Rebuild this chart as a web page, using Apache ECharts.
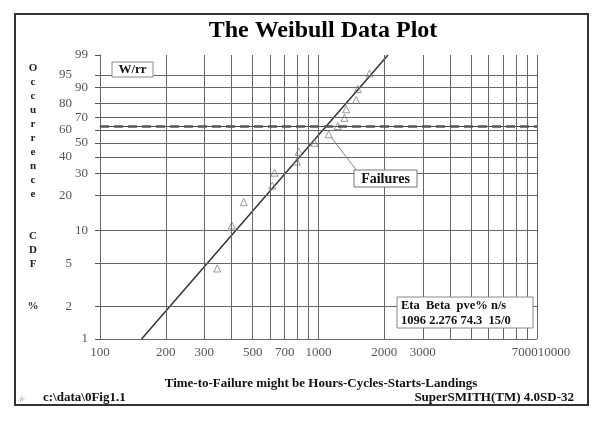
<!DOCTYPE html>
<html><head><meta charset="utf-8">
<script src="https://cdn.jsdelivr.net/npm/echarts@6/dist/echarts.min.js"></script>
<style>html,body{margin:0;padding:0;background:#fff}#c{width:606px;height:422px}</style>
</head><body><div id="c"></div>
<script>
// ---- data ----
const failureHours = [344, 401, 455, 614, 629, 796, 812, 959, 1114, 1225, 1315, 1339, 1488, 1514, 1712];
const failurePct   = [4.5, 11.0, 17.5, 24.0, 30.5, 37.0, 43.5, 50.0, 56.5, 63.0, 69.5, 76.0, 82.5, 89.0, 95.5];
const fitHours = [155, 2080];
const fitPct   = [1, 99];
const characteristicPct = 63.2;
const xTickValues  = [100,200,300,400,500,600,700,800,900,1000,2000,3000,4000,5000,6000,7000,8000,9000,10000];
const xLabelValues = [100,200,300,500,700,1000,2000,3000,10000];
const xCrowdedLabel = '7000'; // printed jammed against the 10000 label in the reference
const yGridPct     = [1,2,5,10,20,30,40,50,60,70,80,90,95,99];
const yLabelsInner = [1,10,30,50,70,90,99];
const yLabelsOuter = [2,5,20,40,60,80,95];
const statsHeader = 'Eta  Beta  pve% n/s';
const statsValues = '1096 2.276 74.3  15/0';

// Weibull probability-paper transform
const wb  = p => Math.log(-Math.log(1 - p / 100));
const inv = v => (1 - Math.exp(-Math.exp(v))) * 100;

const SERIF = "'Liberation Serif','DejaVu Serif',serif";
const chart = echarts.init(document.getElementById('c'));
const yMin = wb(yGridPct[0]), yMax = wb(yGridPct[yGridPct.length - 1]);
const pctFmt = v => String(Math.round(inv(v)));

chart.setOption({
  animation: false,
  backgroundColor: '#fff',
  grid: {left: 100, right: 69, top: 55, bottom: 83},
  xAxis: {
    type: 'log', logBase: 10, min: 100, max: 10000,
    axisLine: {lineStyle: {color: '#444', width: 1}},
    axisTick: {customValues: xTickValues, length: 5, lineStyle: {color: '#555'}},
    axisLabel: {
      customValues: xLabelValues, margin: 7, color: '#555', fontFamily: SERIF, fontSize: 13,
      hideOverlap: false, showMinLabel: true, showMaxLabel: true,
      formatter: v => { const r = Math.round(v); return r === 10000 ? '{a|' + xCrowdedLabel + '}{b|10000}' : String(r); },
      rich: {a: {padding: [0, 0, 0, 8], fontFamily: SERIF, fontSize: 13, color: '#555'},
             b: {fontFamily: SERIF, fontSize: 13, color: '#555'}}
    },
    splitLine: {show: false}
  },
  yAxis: [{
    type: 'value', min: yMin, max: yMax, position: 'left',
    axisLine: {show: true, lineStyle: {color: '#444', width: 1}},
    axisTick: {show: true, customValues: yGridPct.map(wb), length: 5, lineStyle: {color: '#555'}},
    axisLabel: {customValues: yLabelsInner.map(wb), formatter: pctFmt, margin: 12, color: '#555', fontFamily: SERIF, fontSize: 13},
    splitLine: {show: false}
  }, {
    type: 'value', min: yMin, max: yMax, position: 'left', offset: 0,
    axisLine: {show: false}, axisTick: {show: false},
    axisLabel: {customValues: yLabelsOuter.map(wb), formatter: pctFmt, margin: 28, color: '#555', fontFamily: SERIF, fontSize: 13},
    splitLine: {show: false}
  }],
  series: [{
    type: 'line', name: 'fit', z: 2, symbol: 'none',
    data: fitHours.map((h, i) => [h, wb(fitPct[i])]),
    lineStyle: {color: '#333', width: 1.5},
    markLine: {
      silent: true, symbol: 'none', label: {show: false},
      lineStyle: {color: '#666', width: 1, type: 'solid'},
      data: [
        ...xTickValues.map(v => ({xAxis: v})),
        ...yGridPct.map(p => ({yAxis: wb(p)})),
        {yAxis: wb(characteristicPct), lineStyle: {color: '#555', width: 2.5, type: [9, 5]}}
      ]
    }
  }, {
    type: 'scatter', name: 'Failures', z: 3,
    symbol: 'triangle', symbolSize: 7,
    itemStyle: {color: 'rgba(255,255,255,0)', borderColor: '#808080', borderWidth: 1},
    data: failureHours.map((h, i) => [h, wb(failurePct[i])])
  }],
  graphic: [
    {type: 'rect', z: 100, shape: {x: 15, y: 14, width: 573, height: 391}, style: {fill: 'none', stroke: '#333', lineWidth: 2}},
    {type: 'text', z: 100, x: 323, y: 31, style: {text: 'The Weibull Data Plot', font: 'bold 24px ' + SERIF, fill: '#000', align: 'center', verticalAlign: 'middle'}},
    {type: 'text', z: 100, x: 33, y: 61, style: {text: 'O\nc\nc\nu\nr\nr\ne\nn\nc\ne\n\n\nC\nD\nF\n\n\n%', font: 'bold 11px ' + SERIF, lineHeight: 14, fill: '#222', align: 'center', verticalAlign: 'top'}},
    {type: 'rect', z: 100, shape: {x: 112, y: 62, width: 41, height: 15}, style: {fill: '#fff', stroke: '#888', lineWidth: 1}},
    {type: 'text', z: 101, x: 132.5, y: 70, style: {text: 'W/rr', font: 'bold 13px ' + SERIF, fill: '#111', align: 'center', verticalAlign: 'middle'}},
    {type: 'line', z: 100, shape: {x1: 331, y1: 137, x2: 357, y2: 171}, style: {stroke: '#888', lineWidth: 1}},
    {type: 'rect', z: 100, shape: {x: 354, y: 170, width: 63, height: 17}, style: {fill: '#fff', stroke: '#777', lineWidth: 1}},
    {type: 'text', z: 101, x: 385.5, y: 179, style: {text: 'Failures', font: 'bold 14px ' + SERIF, fill: '#111', align: 'center', verticalAlign: 'middle'}},
    {type: 'rect', z: 100, shape: {x: 397, y: 297, width: 136, height: 31}, style: {fill: '#fff', stroke: '#888', lineWidth: 1}},
    {type: 'text', z: 101, x: 401, y: 298, style: {text: statsHeader + '\n' + statsValues, font: 'bold 12.5px ' + SERIF, lineHeight: 15, fill: '#111', align: 'left', verticalAlign: 'top'}},
    {type: 'text', z: 100, x: 321, y: 384, style: {text: 'Time-to-Failure might be Hours-Cycles-Starts-Landings', font: 'bold 13px ' + SERIF, fill: '#111', align: 'center', verticalAlign: 'middle'}},
    {type: 'text', z: 100, x: 43, y: 398, style: {text: 'c:\\data\\0Fig1.1', font: 'bold 13px ' + SERIF, fill: '#111', align: 'left', verticalAlign: 'middle'}},
    {type: 'text', z: 100, x: 574, y: 398, style: {text: 'SuperSMITH(TM) 4.0SD-32', font: 'bold 13px ' + SERIF, fill: '#111', align: 'right', verticalAlign: 'middle'}},
    {type: 'text', z: 100, x: 20, y: 399, style: {text: 'fr', font: 'italic 7px ' + SERIF, fill: '#888', align: 'left', verticalAlign: 'middle'}}
  ]
});
</script></body></html>
